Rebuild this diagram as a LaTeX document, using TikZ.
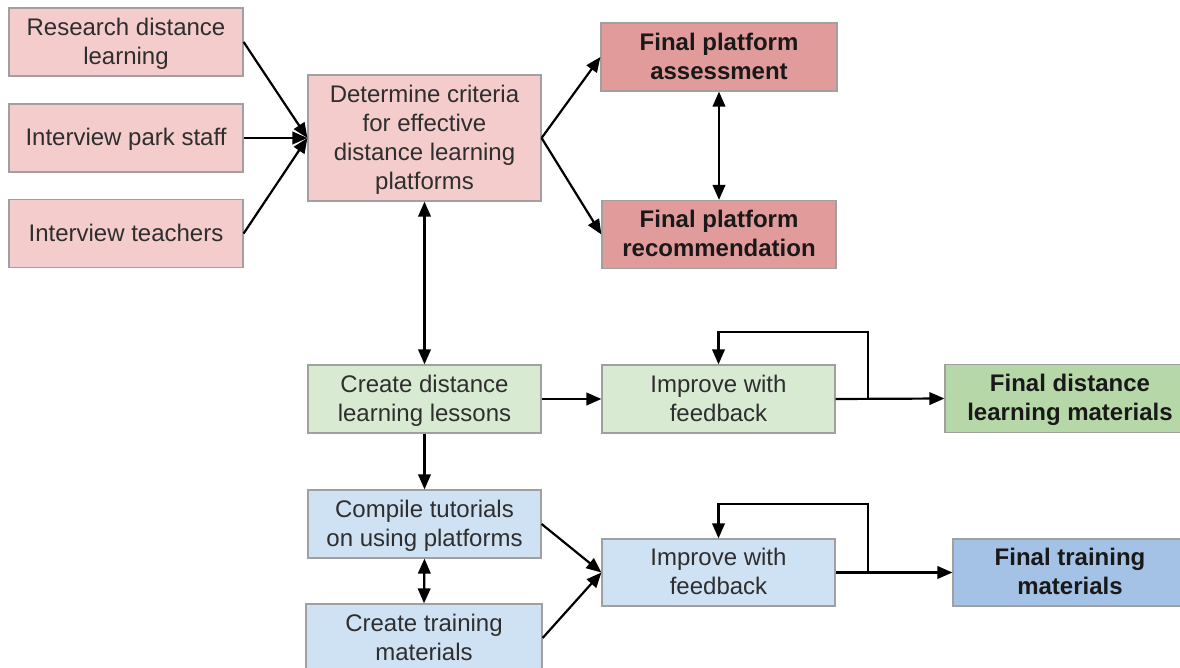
\documentclass[tikz,border=0pt]{standalone}
\usepackage{fontspec}
\setmainfont{Liberation Sans}
\usetikzlibrary{arrows.meta}
\definecolor{pinkL}{HTML}{F4CCCC}
\definecolor{pinkD}{HTML}{E29B9B}
\definecolor{greenL}{HTML}{D9EAD3}
\definecolor{greenD}{HTML}{B6D7A8}
\definecolor{blueL}{HTML}{CFE2F3}
\definecolor{blueD}{HTML}{A4C2E6}
\definecolor{bordergray}{HTML}{A0A0A0}
\definecolor{textgray}{HTML}{2E2E2E}
\begin{document}
\begin{tikzpicture}[x=1pt,y=-1pt,
  box/.style={draw=bordergray, line width=1.2pt, inner sep=0pt, align=center,
    minimum width=234pt, minimum height=68pt, text depth=2pt,
    font=\fontsize{24}{29}\selectfont, text=textgray},
  finalbox/.style={box, font=\fontsize{24}{29}\selectfont\bfseries, text=black!90},
  arr/.style={draw=black, line width=2.2pt, -{Triangle[length=15pt,width=12.5pt]}},
  darr/.style={draw=black, line width=2.2pt, {Triangle[length=15pt,width=12.5pt]}-{Triangle[length=15pt,width=12.5pt]}}]
\useasboundingbox (0,0) rectangle (1180,668);
\clip (0,0) rectangle (1180,668);
\fill[white] (0,0) rectangle (1180,668);

% top group
\node[box, fill=pinkL] (a1) at (126,42) {Research distance\\learning};
\node[box, fill=pinkL] (a2) at (126,138) {Interview park staff};
\node[box, fill=pinkL] (a3) at (126,233.5) {Interview teachers};
\node[box, fill=pinkL, minimum width=233pt, minimum height=126pt] (d) at (424.5,138)
  {Determine criteria\\for effective\\distance learning\\platforms};
\node[finalbox, fill=pinkD, minimum width=236pt] (fa) at (719,57) {Final platform\\assessment};
\node[finalbox, fill=pinkD] (fr) at (719,234.5) {Final platform\\recommendation};

% green group
\node[box, fill=greenL, minimum width=233pt] (c) at (424.5,399) {Create distance\\learning lessons};
\node[box, fill=greenL, minimum width=233pt] (i1) at (718.5,399) {Improve with\\feedback};
\node[finalbox, fill=greenD, minimum width=250pt] (fd) at (1070,398.5) {Final distance\\learning materials};

% blue group
\node[box, fill=blueL, minimum width=233pt] (t) at (424.5,524) {Compile tutorials\\on using platforms};
\node[box, fill=blueL, minimum width=236pt] (ct) at (424,638) {Create training\\materials};
\node[box, fill=blueL, minimum width=233pt, minimum height=67pt] (i2) at (718.5,572.5) {Improve with\\feedback};
\node[finalbox, fill=blueD, minimum height=67pt] (ft) at (1070,572.5) {Final training\\materials};

% connectors top
\draw[arr] (a1.east) -- (d.west);
\draw[arr] (a2.east) -- (d.west);
\draw[arr] (a3.east) -- (d.west);
\draw[arr] (d.east) -- (fa.west);
\draw[arr] (d.east) -- (fr.west);
\draw[darr] (fa.south) -- (fr.north);
\draw[darr] (d.south) -- (c.north);

% green connectors
\draw[arr] (c.east) -- (i1.west);
\draw[arr] (i1.east) -- (fd.west);
\coordinate (l1a) at (868,399);
\coordinate (l1b) at (868,332);
\draw[arr] (l1a) -- (l1b) -| (i1.north);

% blue connectors
\draw[arr] (c.south) -- (t.north);
\draw[darr] (t.south) -- (ct.north);
\draw[arr] (t.east) -- (i2.west);
\draw[arr] (ct.east) -- (i2.west);
\draw[arr] (i2.east) -- (ft.west);
\coordinate (l2a) at (868,572.5);
\coordinate (l2b) at (868,504);
\draw[arr] (l2a) -- (l2b) -| (i2.north);
\end{tikzpicture}
\end{document}
